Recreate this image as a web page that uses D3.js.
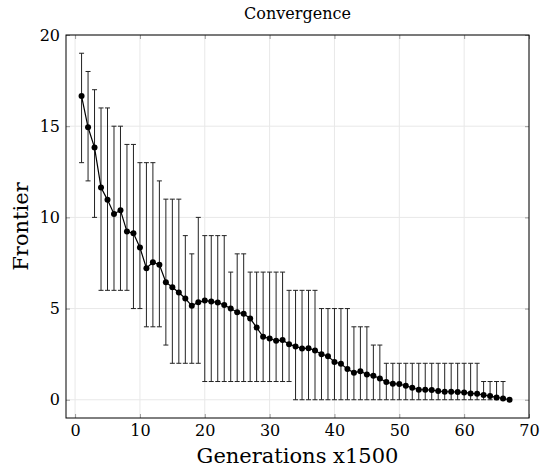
<!DOCTYPE html>
<html>
<head>
<meta charset="utf-8">
<script src="https://cdn.jsdelivr.net/npm/d3@7"></script>
<style>
  body { margin: 0; background: #fff; }
  text { font-family: "DejaVu Serif", "Liberation Serif", serif; fill: #000; }
</style>
</head>
<body>
<script>
// generations (x1500)
var generations = d3.range(1, 68);

// mean frontier per generation
var means = [16.65, 14.94, 13.83, 11.64, 10.96, 10.19, 10.39, 9.22, 9.13, 8.35,
             7.21, 7.54, 7.40, 6.45, 6.17, 5.88, 5.55, 5.15, 5.35, 5.44,
             5.39, 5.33, 5.19, 5.00, 4.80, 4.71, 4.46, 3.96, 3.45, 3.36,
             3.23, 3.27, 3.05, 2.92, 2.81, 2.83, 2.70, 2.50, 2.39, 2.07,
             1.97, 1.68, 1.48, 1.57, 1.39, 1.32, 1.17, 0.97, 0.88, 0.86,
             0.77, 0.66, 0.55, 0.55, 0.53, 0.48, 0.44, 0.44, 0.42, 0.40,
             0.35, 0.33, 0.26, 0.20, 0.13, 0.07, 0.00];

// error bar upper ends
var maxs = [19, 18, 17, 16, 16, 15, 15, 14, 14, 13,
            13, 13, 12, 11, 11, 11, 9, 8, 10, 9,
            9, 9, 9, 7, 8, 8, 7, 7, 7, 7,
            7, 7, 6, 6, 6, 6, 6, 5, 5, 5,
            5, 5, 4, 4, 4, 3, 3, 2, 2, 2,
            2, 2, 2, 2, 2, 2, 2, 2, 2, 2,
            2, 2, 1, 1, 1, 1, 0];

// error bar lower ends
var mins = [13, 12, 10, 6, 6, 6, 6, 6, 5, 5,
            4, 4, 4, 3, 2, 2, 2, 2, 2, 1,
            1, 1, 1, 1, 1, 1, 1, 1, 1, 1,
            1, 1, 1, 0, 0, 0, 0, 0, 0, 0,
            0, 0, 0, 0, 0, 0, 0, 0, 0, 0,
            0, 0, 0, 0, 0, 0, 0, 0, 0, 0,
            0, 0, 0, 0, 0, 0, 0];

var xTicks = [0, 10, 20, 30, 40, 50, 60, 70];
var yTicks = [0, 5, 10, 15, 20];

var width = 546,
    height = 475,
    margin = {top: 35, right: 17, bottom: 57, left: 66};

var data = generations.map(function(g, i) {
    return {x: g, y: means[i], lo: mins[i], hi: maxs[i]};
});

var x = d3.scaleLinear().domain([-1.4, 70]).range([margin.left, width - margin.right]);
var y = d3.scaleLinear().domain([-1, 20]).range([height - margin.bottom, margin.top]);

var svg = d3.select("body").append("svg")
    .attr("width", width)
    .attr("height", height);

// grid
svg.append("g").selectAll("line.gx")
    .data(xTicks).enter().append("line")
    .attr("x1", function(d) { return x(d); })
    .attr("x2", function(d) { return x(d); })
    .attr("y1", y.range()[0]).attr("y2", y.range()[1])
    .attr("stroke", "#e8e8e8").attr("stroke-width", 1);
svg.append("g").selectAll("line.gy")
    .data(yTicks).enter().append("line")
    .attr("y1", function(d) { return y(d); })
    .attr("y2", function(d) { return y(d); })
    .attr("x1", x.range()[0]).attr("x2", x.range()[1])
    .attr("stroke", "#e8e8e8").attr("stroke-width", 1);

// axes, ticks inside
var tickStyle = function(g) {
    g.select(".domain").remove();
    g.selectAll(".tick line").attr("stroke", "#999");
    g.selectAll(".tick text").style("font-size", "16px").style("font-family", "DejaVu Serif, serif");
};

svg.append("g")
    .attr("transform", "translate(0," + y.range()[0] + ")")
    .call(d3.axisBottom(x).tickValues(xTicks).tickSizeInner(-4).tickSizeOuter(0).tickPadding(7))
    .call(tickStyle);
svg.append("g")
    .attr("transform", "translate(0," + y.range()[1] + ")")
    .call(d3.axisTop(x).tickValues(xTicks).tickSizeInner(-4).tickSizeOuter(0).tickFormat(""))
    .call(tickStyle);
svg.append("g")
    .attr("transform", "translate(" + x.range()[0] + ",0)")
    .call(d3.axisLeft(y).tickValues(yTicks).tickSizeInner(-4).tickSizeOuter(0).tickPadding(6))
    .call(tickStyle);
svg.append("g")
    .attr("transform", "translate(" + x.range()[1] + ",0)")
    .call(d3.axisRight(y).tickValues(yTicks).tickSizeInner(-4).tickSizeOuter(0).tickFormat(""))
    .call(tickStyle);

// error bars
var eb = svg.append("g").attr("stroke", "#222").attr("stroke-width", 1);
var withBars = data.filter(function(d) { return d.hi > d.lo; });
eb.selectAll("line.v").data(withBars).enter().append("line")
    .attr("x1", function(d) { return x(d.x); })
    .attr("x2", function(d) { return x(d.x); })
    .attr("y1", function(d) { return y(d.lo); })
    .attr("y2", function(d) { return y(d.hi); });
eb.selectAll("line.t").data(withBars).enter().append("line")
    .attr("x1", function(d) { return x(d.x) - 2.5; })
    .attr("x2", function(d) { return x(d.x) + 2.5; })
    .attr("y1", function(d) { return y(d.hi); })
    .attr("y2", function(d) { return y(d.hi); });
eb.selectAll("line.b").data(withBars).enter().append("line")
    .attr("x1", function(d) { return x(d.x) - 2.5; })
    .attr("x2", function(d) { return x(d.x) + 2.5; })
    .attr("y1", function(d) { return y(d.lo); })
    .attr("y2", function(d) { return y(d.lo); });

// mean line
var line = d3.line()
    .x(function(d) { return x(d.x); })
    .y(function(d) { return y(d.y); });
svg.append("path")
    .datum(data)
    .attr("d", line)
    .attr("fill", "none")
    .attr("stroke", "#000")
    .attr("stroke-width", 1.2);

svg.append("g").selectAll("circle")
    .data(data).enter().append("circle")
    .attr("cx", function(d) { return x(d.x); })
    .attr("cy", function(d) { return y(d.y); })
    .attr("r", 3)
    .attr("fill", "#000");

// frame
svg.append("rect")
    .attr("x", x.range()[0]).attr("y", y.range()[1])
    .attr("width", x.range()[1] - x.range()[0])
    .attr("height", y.range()[0] - y.range()[1])
    .attr("fill", "none").attr("stroke", "#000").attr("stroke-width", 1);

// labels
svg.append("text")
    .attr("x", (x.range()[0] + x.range()[1]) / 2).attr("y", 19)
    .attr("text-anchor", "middle")
    .style("font-size", "16px")
    .text("Convergence");

svg.append("text")
    .attr("x", (x.range()[0] + x.range()[1]) / 2).attr("y", 463)
    .attr("text-anchor", "middle")
    .style("font-size", "21px")
    .text("Generations x1500");

svg.append("text")
    .attr("transform", "translate(28," + ((y.range()[0] + y.range()[1]) / 2) + ") rotate(-90)")
    .attr("text-anchor", "middle")
    .style("font-size", "21px")
    .text("Frontier");
</script>
</body>
</html>
